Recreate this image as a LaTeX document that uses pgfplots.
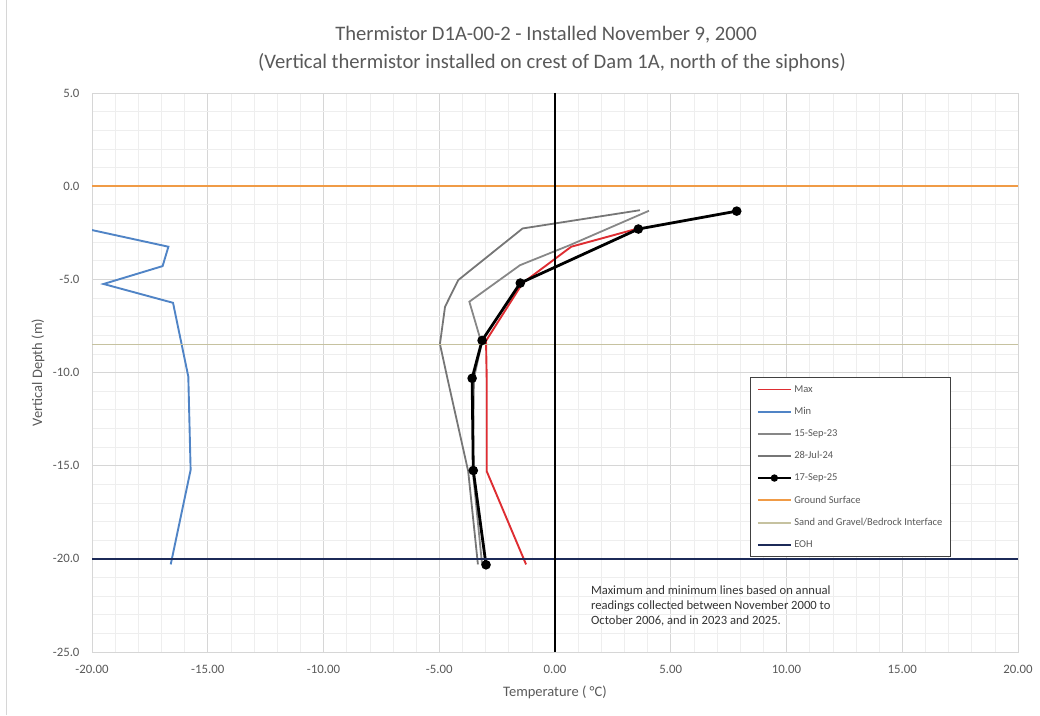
\documentclass[border=0pt]{standalone}
\usepackage{fontspec}
\setmainfont{Carlito}
\usepackage{pgfplots}
\pgfplotsset{compat=1.18}
\definecolor{maxred}{RGB}{222,45,50}
\definecolor{minblue}{RGB}{80,132,198}
\definecolor{grayA}{RGB}{135,135,135}
\definecolor{grayB}{RGB}{118,118,118}
\definecolor{gsorange}{RGB}{240,155,70}
\definecolor{sandtan}{RGB}{198,194,160}
\definecolor{eohnavy}{RGB}{28,42,88}
\definecolor{txtgray}{RGB}{89,89,89}
\definecolor{majgrid}{RGB}{214,214,214}
\definecolor{mingrid}{RGB}{238,238,238}
\begin{document}
\begin{tikzpicture}
\path[use as bounding box] (0pt,0pt) rectangle (1040pt,715pt);
\draw[majgrid, line width=0.8pt] (6pt,0pt) -- (6pt,715pt);
\node[text=txtgray, font=\fontsize{20.6}{24}\selectfont] at (546pt,680pt) {Thermistor D1A-00-2 - Installed November 9, 2000};
\node[text=txtgray, font=\fontsize{20.6}{24}\selectfont] at (552pt,652pt) {(Vertical thermistor installed on crest of Dam 1A, north of the siphons)};
\begin{axis}[
  at={(92pt,63pt)}, anchor=south west,
  width=926pt, height=559pt, scale only axis,
  xmin=-20, xmax=20, ymin=-25, ymax=5,
  xtick={-20,-15,...,20},
  xticklabels={-20.00,-15.00,-10.00,-5.00,0.00,5.00,10.00,15.00,20.00},
  ytick={-25,-20,...,5},
  yticklabels={-25.0,-20.0,-15.0,-10.0,-5.0,0.0,5.0},
  minor tick num=4,
  grid=both,
  major grid style={draw=majgrid, line width=0.8pt},
  minor grid style={draw=mingrid, line width=0.6pt},
  axis line style={draw=majgrid, line width=0.8pt},
  major tick length=0pt, minor tick length=0pt,
  ticklabel style={font=\fontsize{12.8}{14}\selectfont, text=txtgray},
  xticklabel style={yshift=-10pt},
  yticklabel style={xshift=-9pt},
  xlabel={Temperature ( °C)},
  ylabel={Vertical Depth (m)},
  label style={font=\fontsize{14.5}{16}\selectfont, text=txtgray},
  xlabel style={at={(axis description cs:0.5,-0.0716)}, anchor=center},
  ylabel style={at={(axis description cs:-0.0583,0.5)}, anchor=center, rotate=0},
  clip=true,
  legend cell align=left,
  legend style={at={(axis description cs:0.7106,0.492)}, anchor=north west,
    draw=black!75, line width=0.9pt, fill=white,
    font=\fontsize{10.5}{11}\selectfont, text=txtgray,
    row sep=9.6pt, inner xsep=6pt, inner ysep=6pt},
  legend image code/.code={\draw[mark repeat=2, mark phase=2, #1, mark size=2.2pt] plot coordinates {(0pt,0pt) (16.5pt,0pt) (33pt,0pt)};},
]
% Max
\addplot[maxred, line width=1.9pt] coordinates {
 (3.50,-2.30) (0.70,-3.25) (-1.40,-5.20) (-2.98,-8.30) (-2.95,-10.30) (-2.95,-15.30) (-1.25,-20.30)};
\addlegendentry{Max}
% Min
\addplot[minblue, line width=1.9pt] coordinates {
 (-23.9,-1.30) (-16.70,-3.25) (-16.95,-4.29) (-19.50,-5.25) (-16.50,-6.26) (-15.84,-10.22) (-15.74,-15.23) (-16.60,-20.30)};
\addlegendentry{Min}
% 15-Sep-23
\addplot[grayA, line width=1.8pt] coordinates {
 (4.06,-1.32) (0.65,-3.16) (-1.51,-4.24) (-3.70,-6.20) (-3.17,-8.44) (-3.50,-10.30) (-3.55,-15.30) (-3.15,-20.30)};
\addlegendentry{15-Sep-23}
% 28-Jul-24
\addplot[grayB, line width=1.8pt] coordinates {
 (3.67,-1.29) (-1.40,-2.27) (-4.18,-5.04) (-4.75,-6.47) (-4.97,-8.47) (-4.65,-10.30) (-3.75,-15.30) (-3.33,-20.30)};
\addlegendentry{28-Jul-24}
% 17-Sep-25
\addplot[black, line width=2.8pt, mark=*, mark size=3.3pt] coordinates {
 (7.85,-1.34) (3.60,-2.30) (-1.50,-5.20) (-3.15,-8.28) (-3.58,-10.31) (-3.53,-15.26) (-2.98,-20.32)};
\addlegendentry{17-Sep-25}
% reference lines
\addplot[gsorange, line width=1.9pt] coordinates {(-20,0) (20,0)};
\addlegendentry{Ground Surface}
\addplot[sandtan, line width=1.9pt] coordinates {(-20,-8.5) (20,-8.5)};
\addlegendentry{Sand and Gravel/Bedrock Interface}
\addplot[eohnavy, line width=1.9pt] coordinates {(-20,-20) (20,-20)};
\addlegendentry{EOH}
% zero line
\addplot[black, line width=1.1pt, forget plot] coordinates {(0,5) (0,-25)};
\node[anchor=north west, align=left, text=black!80, font=\fontsize{12.6}{15}\selectfont, inner sep=0pt]
  at (axis cs:1.55,-21.45) {Maximum and minimum lines based on annual\\readings collected between November 2000 to\\October 2006, and in 2023 and 2025.};
\end{axis}
\end{tikzpicture}
\end{document}
